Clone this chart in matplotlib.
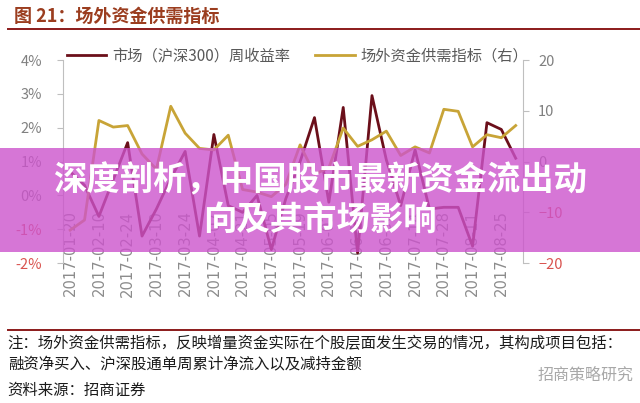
import matplotlib.pyplot as plt
from matplotlib.patches import Rectangle
from matplotlib.lines import Line2D
from matplotlib.ticker import FuncFormatter

plt.rcParams['font.family'] = ['Noto Sans CJK SC', 'DejaVu Sans']

# 周度数据
dates = ['2017-01-20', '2017-02-03', '2017-02-10', '2017-02-17', '2017-02-24',
         '2017-03-03', '2017-03-10', '2017-03-17', '2017-03-24', '2017-03-31',
         '2017-04-07', '2017-04-14', '2017-04-21', '2017-04-28', '2017-05-05',
         '2017-05-12', '2017-05-19', '2017-05-26', '2017-06-02', '2017-06-09',
         '2017-06-16', '2017-06-23', '2017-06-30', '2017-07-07', '2017-07-14',
         '2017-07-21', '2017-07-28', '2017-08-04', '2017-08-11', '2017-08-18',
         '2017-08-25', '2017-09-01']
market_ret = [0.7, 0.3, -0.62, 0.47, 1.56, -1.2, -0.4, 0.5, 1.3, -1.2,
              1.8, -0.3, -0.5, 0.0, -1.6, -0.1, 1.0, 2.3, -0.2, 2.6,
              -1.7, 2.95, 1.05, -0.3, 1.35, -0.4, -0.35, -0.35, -1.5, 2.15,
              1.95, 1.1]
fund_idx = [-13.5, -11.5, 8.1, 6.8, 7.1, 1.5, -1.5, 10.9, 5.6, 2.6,
            2.3, 5.2, -5.5, -6.0, -6.9, -4.5, 3.3, -2.5, -1.2, 6.6,
            3.0, 4.3, 6.0, 1.2, 2.9, 1.7, 10.3, 9.9, 2.9, 5.3,
            4.7, 7.1]

c_market = '#6B0F1A'
c_fund = '#C8A437'
c_grey = '#808080'
c_neg = '#D9534F'

fig = plt.figure(figsize=(6.4, 4.03), dpi=100)
ax = fig.add_axes([0.0984, 0.347, 0.7186, 0.504])
ax2 = ax.twinx()

x = list(range(len(dates)))
ax.plot(x, market_ret, color=c_market, lw=2.0)
ax2.plot(x, fund_idx, color=c_fund, lw=2.0)

ax.set_xlim(-0.5, len(dates) - 0.5)
ax.set_ylim(-2, 4)
ax2.set_ylim(-20, 20)
ax.set_yticks(range(-2, 5))
ax2.set_yticks(range(-20, 21, 10))
ax.yaxis.set_major_formatter(FuncFormatter(lambda v, p: f'{v:.0f}%'))

ax.set_xticks(x[::2])
ax.set_xticklabels(dates[::2], rotation=90, fontsize=10.6, color='#8C8C8C',
                   family=['DejaVu Sans'])
ax.tick_params(axis='x', length=0, pad=-38)

for a in (ax, ax2):
    for s in ('top', 'bottom'):
        a.spines[s].set_visible(False)
    a.spines['left'].set_color('#BFBFBF')
    a.spines['right'].set_color('#BFBFBF')
ax.spines['right'].set_visible(False)
ax2.spines['left'].set_visible(False)

ax.tick_params(axis='y', length=4, color='#BFBFBF', pad=11, labelsize=10.5)
ax2.tick_params(axis='y', length=4, color='#BFBFBF', pad=7, labelsize=10.5)
for lbl, v in zip(ax.get_yticklabels(), range(-2, 5)):
    lbl.set_color(c_neg if v < 0 else c_grey)
for lbl, v in zip(ax2.get_yticklabels(), range(-20, 21, 10)):
    lbl.set_color(c_neg if v < 0 else c_grey)

# 图例
handles = [Line2D([], [], color=c_market, lw=2.0),
           Line2D([], [], color=c_fund, lw=2.0)]
fig.legend(handles, ['市场（沪深300）周收益率', '场外资金供需指标（右）'],
           loc='center', bbox_to_anchor=(0.465, 0.861), ncol=2, frameon=False,
           fontsize=11, labelcolor='#595959', handlelength=2.6,
           columnspacing=1.6, handletextpad=0.4)

# 标题与注释
fig.text(0.022, 0.958, '图 21：场外资金供需指标', fontsize=13, fontweight='bold',
         color='#9B3D1F', va='center')
fig.add_artist(Line2D([0.012, 1.0], [0.928, 0.928], color='#8B1A1A', lw=1.4))
fig.add_artist(Line2D([0.012, 1.0], [0.180, 0.180], color='#8B1A1A', lw=1.4))
fig.text(0.012, 0.148, '注：场外资金供需指标，反映增量资金实际在个股层面发生交易的情况，其构成项目包括：',
         fontsize=11.1, color='#1A1A1A', va='center')
fig.text(0.012, 0.097, '融资净买入、沪深股通单周累计净流入以及减持金额',
         fontsize=11.1, color='#1A1A1A', va='center')
fig.text(0.012, 0.031, '资料来源：招商证券', fontsize=11.1, color='#1A1A1A', va='center')
fig.text(0.99, 0.068, '招商策略研究', fontsize=11.5, color='#A8A8A8', va='center', ha='right')

# 横幅
fig.add_artist(Rectangle((0, 0.374), 1, 0.258, transform=fig.transFigure,
                         facecolor=(0.80, 0.33, 0.80), alpha=0.8, lw=0, zorder=5))
fig.text(0.5, 0.552, '深度剖析，中国股市最新资金流出动', fontsize=24, fontweight='bold',
         color='white', ha='center', va='center', zorder=6)
fig.text(0.5, 0.450, '向及其市场影响', fontsize=24, fontweight='bold',
         color='white', ha='center', va='center', zorder=6)

fig.savefig('out.png', dpi=100)
